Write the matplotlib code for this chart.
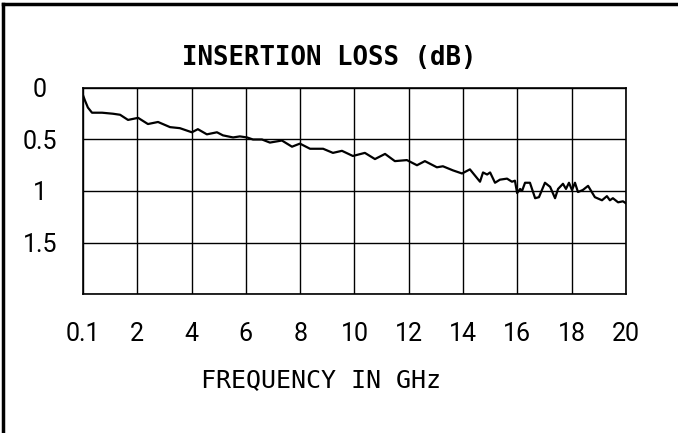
import numpy as np
import matplotlib
matplotlib.use("Agg")
from matplotlib import pyplot as plt
from matplotlib.lines import Line2D

# insertion loss trace (GHz, dB)
freq_ghz = [0.10, 0.17, 0.28, 0.43, 0.80, 1.20, 1.46, 1.75, 2.12, 2.48, 2.85, 3.29, 3.65,
            4.09, 4.31, 4.64, 5.01, 5.23, 5.60, 5.85, 6.11, 6.33, 6.66, 6.95, 7.39,
            7.76, 8.05, 8.42, 8.90, 9.26, 9.59, 9.99, 10.43, 10.80, 11.17, 11.53,
            11.97, 12.34, 12.63, 13.07, 13.29, 13.66, 13.99, 14.28, 14.65, 14.76,
            14.91, 15.02, 15.20, 15.38, 15.64, 15.82, 15.93, 16.01, 16.12, 16.19,
            16.30, 16.48, 16.67, 16.81, 17.03, 17.22, 17.40, 17.51, 17.69, 17.80,
            17.91, 18.02, 18.13, 18.24, 18.42, 18.61, 18.86, 19.12, 19.30, 19.41,
            19.52, 19.71, 19.89, 20.00]
loss_db = [0.07, 0.12, 0.19, 0.24, 0.24, 0.25, 0.26, 0.31, 0.29, 0.35, 0.33, 0.38, 0.39,
           0.43, 0.40, 0.45, 0.43, 0.46, 0.48, 0.47, 0.48, 0.50, 0.50, 0.53, 0.51,
           0.57, 0.54, 0.59, 0.59, 0.63, 0.61, 0.66, 0.63, 0.69, 0.64, 0.71,
           0.70, 0.75, 0.71, 0.77, 0.76, 0.80, 0.83, 0.79, 0.91, 0.82,
           0.84, 0.82, 0.92, 0.89, 0.88, 0.91, 0.90, 1.02, 0.98, 1.00,
           0.92, 0.92, 1.07, 1.06, 0.92, 0.96, 1.07, 0.98, 0.93, 0.98,
           0.92, 0.99, 0.92, 1.01, 0.99, 0.95, 1.06, 1.09, 1.05, 1.09,
           1.07, 1.11, 1.10, 1.12]

x_labels = ['0.1', '2', '4', '6', '8', '10', '12', '14', '16', '18', '20']
y_ticks = [0, 0.5, 1, 1.5, 2]
y_labels = ['0', '0.5', '1', '1.5', '']

tick_font = ['Roboto', 'DejaVu Sans']

fig = plt.figure(figsize=(6.78, 4.33), dpi=100)
ax = fig.add_axes([0.1224, 0.3210, 0.8009, 0.4758])

ax.plot(freq_ghz, loss_db, color='black', lw=1.6)

# 10 equal divisions from 0.1 to 20 GHz
x_ticks = np.linspace(0.1, 20, 11)
ax.set_xlim(0.1, 20)
ax.set_ylim(2, 0)
ax.set_xticks(x_ticks)
ax.set_xticklabels(x_labels, family=tick_font, fontsize=18)
ax.set_yticks(y_ticks)
ax.set_yticklabels(y_labels, family=tick_font, fontsize=18)
for lab in ax.get_yticklabels():
    lab.set_horizontalalignment('center')
ax.tick_params(axis='x', length=0, pad=20)
ax.tick_params(axis='y', length=0, pad=31)
ax.grid(True, color='black', lw=1.0)
for s in ax.spines.values():
    s.set_linewidth(1.2)

fig.text(0.485, 0.867, 'INSERTION LOSS (dB)', ha='center', va='center',
         family='DejaVu Sans Mono', fontweight='bold', fontsize=18.5)
fig.text(0.473, 0.122, 'FREQUENCY IN GHz', ha='center', va='center',
         family='DejaVu Sans Mono', fontsize=18)

# page border, left and top only
fig.add_artist(Line2D([0.004, 0.004], [0, 0.990], transform=fig.transFigure, color='black', lw=2.5))
fig.add_artist(Line2D([0.004, 1.0], [0.990, 0.990], transform=fig.transFigure, color='black', lw=2.5))

fig.savefig('out.png', dpi=100, facecolor='white')
